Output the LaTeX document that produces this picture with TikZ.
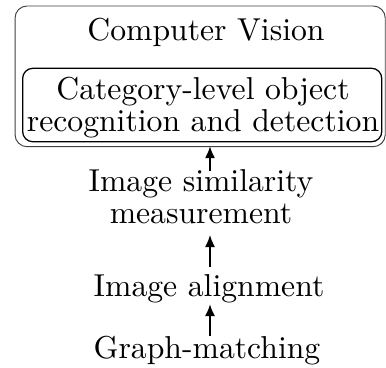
\documentclass[tikz,border=0pt]{standalone}
\usetikzlibrary{arrows.meta}
\begin{document}
\begin{tikzpicture}[x=0.3155pt,y=-0.3155pt,
  txt/.style={inner sep=0pt,font=\fontsize{10pt}{10.1pt}\selectfont},
  outbox/.style={draw=black!75,line width=0.3pt,rounded corners=3.8pt,inner sep=0pt},
  inbox/.style={draw=black,line width=0.4pt,rounded corners=3.2pt,inner sep=0pt},
  arr/.style={line width=0.6pt,-{Latex[length=3.8pt,width=3.2pt]}}]
\useasboundingbox (0,0) rectangle (386,367);
\node[outbox,minimum width=116.8pt,minimum height=44.4pt] (outer) at (200.15,76.35) {};
\node[txt,anchor=base] (cv) at (206,40) {Computer Vision};
\node[inbox,minimum width=113.3pt,minimum height=23.16pt] (inner) at (202.2,105) {};
\node[txt,align=center] (cat) at (203,108) {Category-level object\\recognition and detection};
\node[txt,align=center] (sim) at (201,197) {Image similarity\\measurement};
\node[txt,anchor=base] (aln) at (209,296) {Image alignment};
\node[txt,anchor=base] (gm) at (207,358) {Graph-matching};
\coordinate (ax) at (210,0);
\draw[arr,shorten <=-0.6pt,shorten >=1.2pt] (sim.north -| ax) -- (inner.south -| ax);
\draw[arr,shorten <=1.9pt,shorten >=3.2pt] (aln.north -| ax) -- (sim.south -| ax);
\draw[arr,shorten <=-0.3pt,shorten >=0.3pt] (gm.north -| ax) -- (aln.south -| ax);
\end{tikzpicture}
\end{document}
